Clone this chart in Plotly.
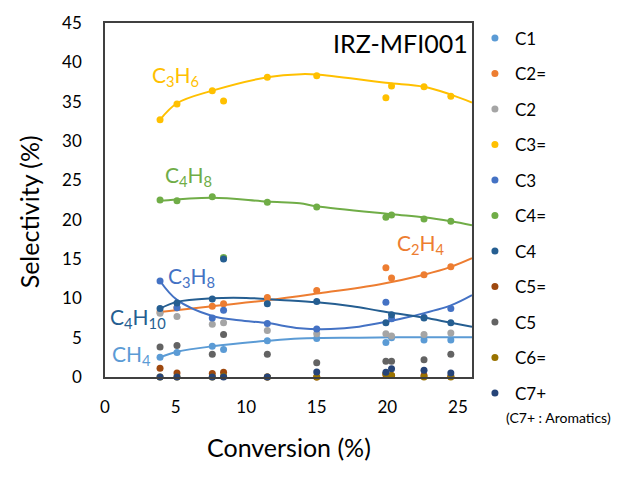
import plotly.graph_objects as go

# ---------------- data ----------------
conversion = [3.9, 5.1, 7.6, 8.4, 11.5, 15.0, 19.9, 20.3, 22.6, 24.5]

series_names = ["C1", "C2=", "C2", "C3=", "C3", "C4=", "C4", "C5=", "C5", "C6=", "C7+"]
series_colors = ["#5B9BD5", "#ED7D31", "#A5A5A5", "#FFC000", "#4472C4", "#70AD47",
                 "#255E91", "#9E480E", "#636363", "#997300", "#264478"]

c1 = [2.5, 3.1, 3.9, 3.5, 4.6, 4.9, 4.4, 5.0, 4.7, 4.7]
c2e = [8.25, 8.8, 9.0, 9.3, 10.1, 11.0, 13.9, 12.6, 13.0, 14.0]
c2 = [8.1, 7.7, 6.7, 6.9, 5.9, 5.5, 5.5, 5.2, 5.4, 5.6]
c3e = [32.7, 34.7, 36.4, 35.1, 38.1, 38.3, 35.5, 37.0, 36.9, 35.7]
c3 = [12.2, 8.8, 7.5, 8.5, 6.8, 6.1, 9.5, 7.4, 7.6, 8.7]
c4e = [22.5, 22.4, 22.9, 15.2, 22.2, 21.6, 20.3, 20.6, 20.1, 19.8]
c4 = [8.7, 9.4, 9.9, 15.0, 9.3, 9.6, 6.9, 7.9, 7.5, 6.9]
c5e = [1.1, 0.5, 0.45, 0.6, 0.0, 0.0, 0.3, 0.2, 0.2, 0.1]
c5 = [3.8, 4.0, 2.9, 5.4, 2.9, 1.8, 2.0, 2.0, 2.2, 2.9]
c6e = [0.0, 0.0, 0.0, 0.1, 0.0, 0.0, 0.4, 0.2, 0.0, 0.0]
c7p = [0.0, 0.0, 0.0, 0.0, 0.0, 0.65, 0.6, 1.05, 0.85, 0.5]

series_values = [c1, c2e, c2, c3e, c3, c4e, c4, c5e, c5, c6e, c7p]

# trend lines, read along the curves of the reference
trend_c1_x = [3.9, 5.1, 7.6, 11.5, 13.8, 18.0, 22.0, 26.0]
trend_c1_y = [2.5, 3.2, 3.9, 4.6, 4.9, 5.0, 5.05, 5.05]
trend_c2e_x = [3.9, 7.6, 11.5, 15.0, 19.5, 22.6, 24.5, 26.0]
trend_c2e_y = [8.25, 9.0, 9.75, 10.6, 11.8, 13.0, 14.0, 15.1]
trend_c3e_x = [3.9, 5.1, 7.6, 11.5, 13.9, 15.0, 19.9, 22.6, 24.5, 26.0]
trend_c3e_y = [32.7, 34.8, 36.4, 38.1, 38.5, 38.45, 37.4, 36.9, 35.9, 34.9]
trend_c3_x = [3.9, 5.1, 7.6, 9.5, 11.5, 13.8, 16.0, 18.0, 19.9, 21.8, 24.5, 26.0]
trend_c3_y = [12.2, 9.8, 7.75, 7.2, 6.85, 6.2, 6.1, 6.4, 7.0, 7.75, 9.1, 10.4]
trend_c4e_x = [3.9, 7.6, 11.5, 13.8, 15.0, 20.3, 22.6, 24.5, 26.0]
trend_c4e_y = [22.4, 22.8, 22.3, 22.1, 21.7, 20.7, 20.3, 19.8, 19.3]
trend_c4_x = [3.9, 5.1, 7.6, 10.0, 12.4, 15.0, 17.5, 19.5, 22.6, 24.5, 26.0]
trend_c4_y = [8.7, 9.55, 10.0, 10.05, 9.8, 9.5, 9.0, 8.4, 7.55, 6.9, 6.4]

trends = [
    (trend_c1_x, trend_c1_y, "#5B9BD5"),
    (trend_c2e_x, trend_c2e_y, "#ED7D31"),
    (trend_c3e_x, trend_c3e_y, "#FFC000"),
    (trend_c3_x, trend_c3_y, "#4472C4"),
    (trend_c4e_x, trend_c4e_y, "#70AD47"),
    (trend_c4_x, trend_c4_y, "#255E91"),
]

# curve labels: (text, x, y, color)
curve_labels = [
    ("C<sub>3</sub>H<sub>6</sub>", 5.0, 38.3, "#FFC000"),
    ("C<sub>4</sub>H<sub>8</sub>", 5.95, 25.5, "#70AD47"),
    ("C<sub>3</sub>H<sub>8</sub>", 6.15, 12.7, "#4472C4"),
    ("C<sub>4</sub>H<sub>10</sub>", 2.35, 7.45, "#255E91"),
    ("CH<sub>4</sub>", 1.85, 2.85, "#5B9BD5"),
    ("C<sub>2</sub>H<sub>4</sub>", 22.4, 16.85, "#ED7D31"),
]

FONT = "Lato"

fig = go.Figure()

for tx, ty, col in trends:
    fig.add_trace(go.Scatter(x=tx, y=ty, mode="lines", line=dict(color=col, width=2, shape="spline"),
                             showlegend=False, hoverinfo="skip"))

for i, (name, vals, col) in enumerate(zip(series_names, series_values, series_colors)):
    fig.add_trace(go.Scatter(x=conversion, y=vals, mode="markers", name=name,
                             legendgroup=f"g{i}",
                             marker=dict(color=col, size=7, line=dict(width=0)),
                             cliponaxis=False))

annotations = []
for text, x, y, col in curve_labels:
    annotations.append(dict(x=x, y=y, xref="x", yref="y", text=text, showarrow=False,
                            font=dict(family=FONT, size=21, color=col)))

annotations.append(dict(x=20.9, y=42.4, xref="x", yref="y", text="IRZ-MFI001", showarrow=False,
                        font=dict(family=FONT, size=25, color="#000000")))
annotations.append(dict(x=1.087, y=-0.115, xref="paper", yref="paper", xanchor="left", yanchor="middle",
                        text="(C7+ : Aromatics)", showarrow=False,
                        font=dict(family=FONT, size=14, color="#000000")))
annotations.append(dict(x=0.5, y=-0.198, xref="paper", yref="paper", xanchor="center", yanchor="middle",
                        text="Conversion (%)", showarrow=False,
                        font=dict(family=FONT, size=25, color="#000000")))
annotations.append(dict(x=-0.208, y=0.467, xref="paper", yref="paper", xanchor="center", yanchor="middle",
                        text="Selectivity (%)", textangle=-90, showarrow=False,
                        font=dict(family=FONT, size=25, color="#000000")))

fig.update_layout(
    width=624, height=479,
    margin=dict(l=105, r=152, t=15, b=102),
    plot_bgcolor="white", paper_bgcolor="white",
    font=dict(family=FONT, size=17, color="#000000"),
    showlegend=True,
    legend=dict(x=1.008, y=1.007, xanchor="left", yanchor="top",
                font=dict(family=FONT, size=17, color="#000000"),
                tracegroupgap=10.4, itemsizing="trace", bgcolor="rgba(0,0,0,0)",
                maxheight=470),
    annotations=annotations,
)
fig.update_xaxes(range=[0, 26], tickvals=[0, 5, 10, 15, 20, 25], showgrid=False, zeroline=False,
                 showline=True, linecolor="#404040", linewidth=1.5, mirror=True, ticks="",
                 ticklabelstandoff=14, tickfont=dict(family=FONT, size=17))
fig.update_yaxes(range=[0, 45], tickvals=[0, 5, 10, 15, 20, 25, 30, 35, 40, 45], showgrid=False,
                 zeroline=False, showline=True, linecolor="#404040", linewidth=1.5, mirror=True,
                 ticks="", ticklabelstandoff=18, tickfont=dict(family=FONT, size=17))

fig.write_html("out.html")
